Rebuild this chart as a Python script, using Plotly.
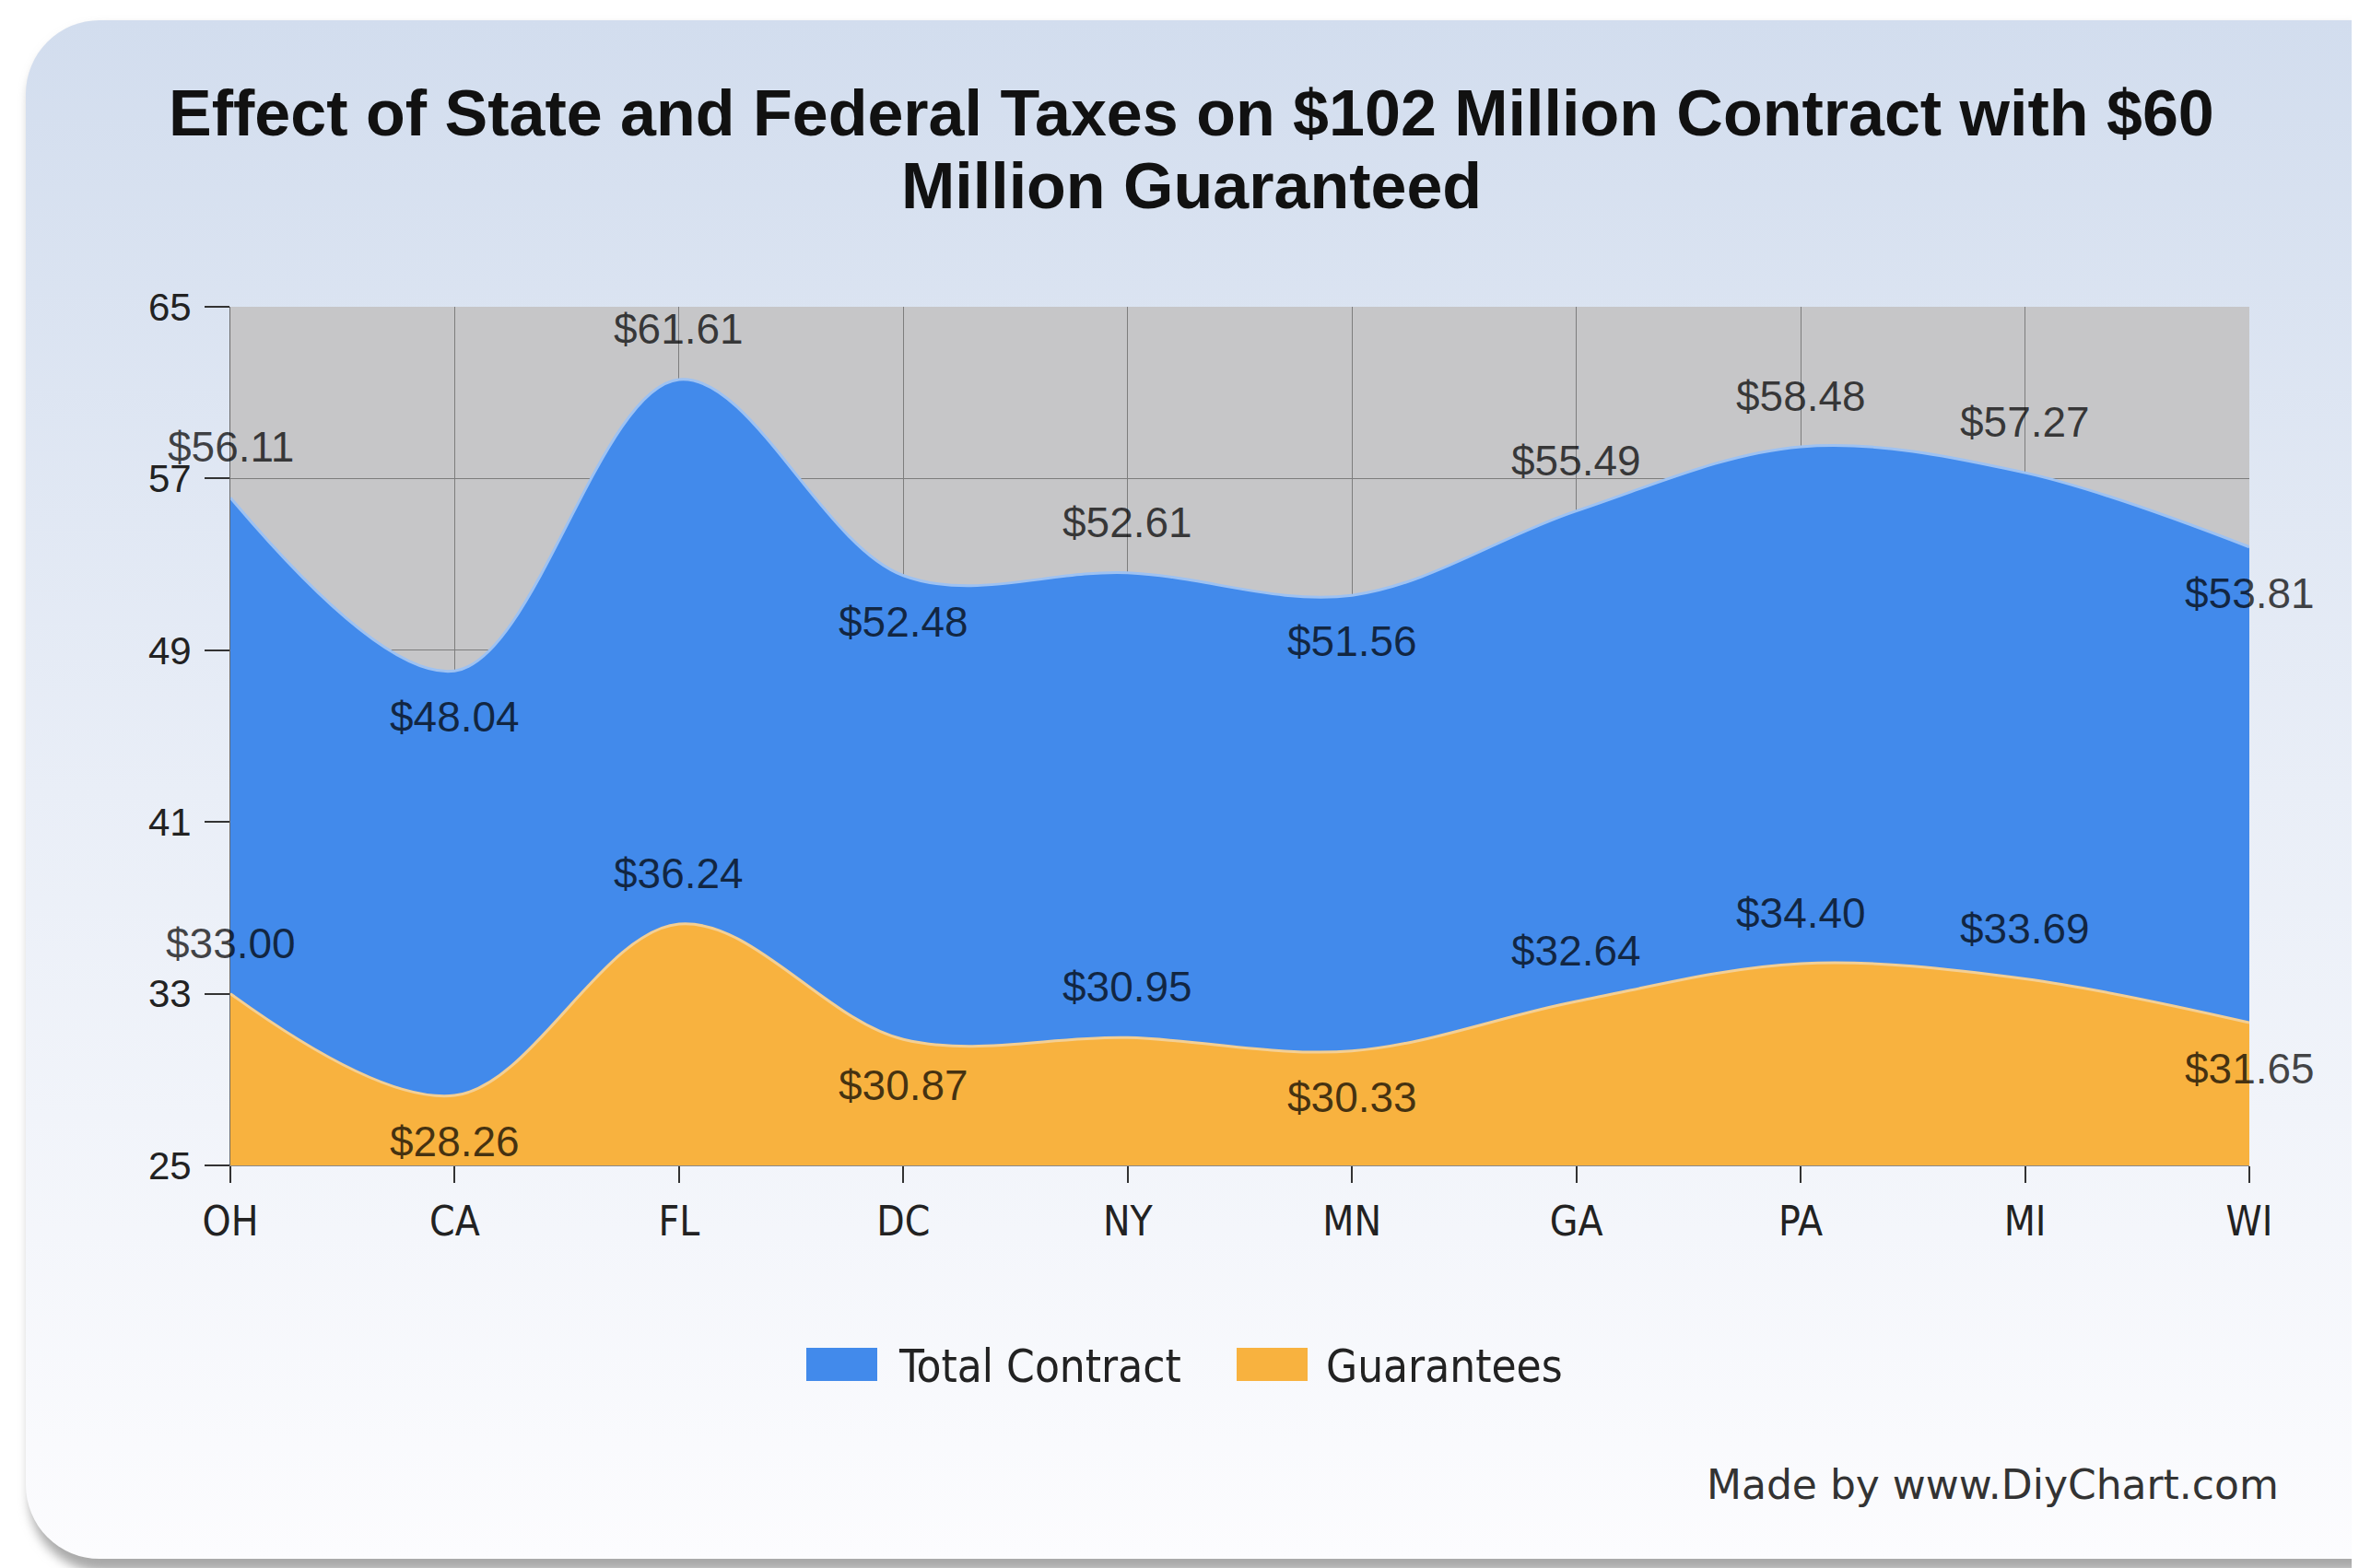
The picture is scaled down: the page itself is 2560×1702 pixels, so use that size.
import base64

import plotly.graph_objects as go

states = ["OH", "CA", "FL", "DC", "NY", "MN", "GA", "PA", "MI", "WI"]
total_contract = [56.11, 48.04, 61.61, 52.48, 52.61, 51.56, 55.49, 58.48, 57.27, 53.81]
guarantees = [33.00, 28.26, 36.24, 30.87, 30.95, 30.33, 32.64, 34.40, 33.69, 31.65]

y_ticks = [25, 33, 41, 49, 57, 65]

title_lines = ["Effect of State and Federal Taxes on $102 Million Contract with $60",
               "Million Guaranteed"]

W, H = 2560, 1702
BODY = 8  # page margin the browser puts round the plot
# plot area in screenshot pixels
PL, PR, PT, PB = 250, 2441, 333, 1265

NARROW = "Liberation Sans Narrow, Arial Narrow, Liberation Sans, Arial"
COND = "DejaVu Sans Condensed, Tahoma, DejaVu Sans"
WIDE = "DejaVu Sans, Tahoma"

BLUE = "#428aeb"
ORANGE = "#f8b23f"


def px_x(px):
    return (px - PL) / (PR - PL)


def px_y(py):
    return (PB - py) / (PB - PT)


# gradient card behind everything
svg = f"""<svg xmlns="http://www.w3.org/2000/svg" width="{W}" height="{H}">
<defs><linearGradient id="g" x1="0" y1="0" x2="0" y2="1">
<stop offset="0" stop-color="#d2ddee"/><stop offset="0.5" stop-color="#e9eef7"/>
<stop offset="1" stop-color="#fcfcfe"/></linearGradient>
<filter id="b"><feGaussianBlur stdDeviation="6"/></filter></defs>
<rect width="{W}" height="{H}" fill="#ffffff"/>
<rect x="24" y="22" width="2600" height="1676" rx="80" fill="#a9a9a9" filter="url(#b)"/>
<rect x="20" y="14" width="2600" height="1670" rx="80" fill="url(#g)"/>
</svg>"""
bg_uri = "data:image/svg+xml;base64," + base64.b64encode(svg.encode()).decode()

fig = go.Figure()

fig.add_trace(go.Scatter(
    x=states, y=total_contract, name="Total Contract",
    mode="lines", line=dict(color="#9ec2f2", width=3, shape="spline", smoothing=1),
    fill="tozeroy", fillcolor=BLUE, showlegend=False, hoverinfo="skip",
))
fig.add_trace(go.Scatter(
    x=states, y=guarantees, name="Guarantees",
    mode="lines", line=dict(color="#f4cf93", width=3, shape="spline", smoothing=1),
    fill="tozeroy", fillcolor=ORANGE, showlegend=False, hoverinfo="skip",
))

annotations = []
for series in (total_contract, guarantees):
    for i, (state, val) in enumerate(zip(states, series)):
        neighbours = series[max(i - 1, 0):i] + series[i + 1:i + 2]
        below = all(val <= n for n in neighbours)
        annotations.append(dict(
            x=state, y=val, xref="x", yref="y", text=f"${val:.2f}",
            showarrow=False, yshift=-50 if below else 55,
            font=dict(family=NARROW, size=46, color="rgba(0,0,0,0.72)"),
        ))

# title, one annotation per line so the spacing can be set
for line, cy in zip(title_lines, (123, 202)):
    annotations.append(dict(x=px_x(1293), y=px_y(cy), xref="paper", yref="paper",
                            text=line, showarrow=False, xanchor="center", yanchor="middle",
                            font=dict(family=NARROW, size=70, color="#111111", weight="bold")))

# legend drawn by hand to get the wide swatches
legend_items = [("Total Contract", BLUE, 875, 973), ("Guarantees", ORANGE, 1342, 1437)]
shapes = [
    dict(type="rect", xref="paper", yref="paper", x0=0, x1=1, y0=0, y1=1,
         fillcolor="#c6c6c8", line=dict(width=0), layer="below"),
]
for name, color, sx, tx in legend_items:
    shapes.append(dict(type="rect", xref="paper", yref="paper",
                       x0=px_x(sx), x1=px_x(sx + 77), y0=px_y(1499), y1=px_y(1463),
                       fillcolor=color, line=dict(width=0)))
    annotations.append(dict(x=px_x(tx), y=px_y(1483), xref="paper", yref="paper",
                            text=name, showarrow=False, xanchor="left", yanchor="middle",
                            font=dict(family=COND, size=49, color="#222222")))

annotations.append(dict(x=px_x(2475), y=px_y(1611), xref="paper", yref="paper",
                        text="Made by www.DiyChart.com", showarrow=False,
                        xanchor="right", yanchor="middle",
                        font=dict(family=WIDE, size=44, color="#333333")))

fig.update_layout(
    width=W, height=H,
    margin=dict(l=PL - BODY, r=W + BODY - PR, t=PT - BODY, b=H + BODY - PB),
    paper_bgcolor="#ffffff",
    plot_bgcolor="rgba(0,0,0,0)",
    images=[dict(source=bg_uri, xref="paper", yref="paper",
                 x=px_x(BODY), y=px_y(BODY), sizex=W / (PR - PL), sizey=H / (PB - PT),
                 xanchor="left", yanchor="top", sizing="stretch", layer="below")],
    shapes=shapes,
    annotations=annotations,
    showlegend=False,
)

fig.update_xaxes(
    type="category", range=[0, len(states) - 1],
    showgrid=True, gridcolor="#7d7d7d", gridwidth=1,
    showline=True, linecolor="#8a8a8a", linewidth=1,
    ticks="outside", ticklen=18, tickwidth=2, tickcolor="#333333",
    ticklabelstandoff=4,
    tickfont=dict(family=COND, size=44, color="#222222"),
)
fig.update_yaxes(
    range=[25, 65], tickvals=y_ticks,
    showgrid=True, gridcolor="#7d7d7d", gridwidth=1,
    showline=True, linecolor="#6a6a6a", linewidth=1, mirror=False,
    ticks="outside", ticklen=27, tickwidth=2, tickcolor="#333333",
    ticklabelstandoff=6,
    tickfont=dict(family=NARROW, size=42, color="#222222"),
    zeroline=False,
)

fig.write_html("out.html")
